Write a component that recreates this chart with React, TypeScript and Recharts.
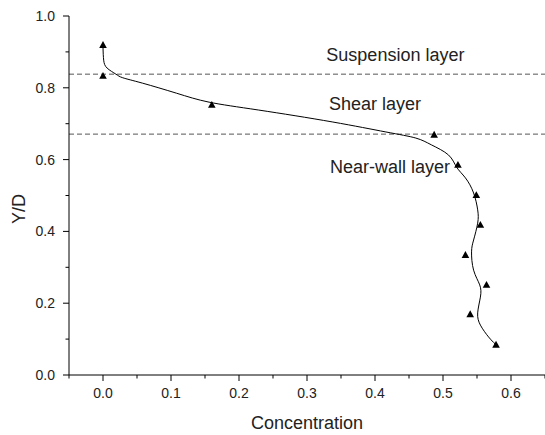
import React from 'react'
import {
  ScatterChart,
  Scatter,
  XAxis,
  YAxis,
  ReferenceLine,
  ReferenceDot,
} from 'recharts'

// measured points (triangles)
const concentration = [0.0, 0.0, 0.16, 0.487, 0.522, 0.549, 0.555, 0.533, 0.564, 0.54, 0.578]
const depth = [0.919, 0.833, 0.752, 0.669, 0.585, 0.501, 0.418, 0.334, 0.251, 0.169, 0.084]

// fitted curve
const curveX = [
  0.0, 0.001, 0.006, 0.019, 0.029, 0.058, 0.108, 0.156, 0.229, 0.337, 0.416, 0.46,
  0.483, 0.508, 0.52, 0.533, 0.545, 0.551, 0.551, 0.545, 0.542, 0.545, 0.554, 0.555, 0.551,
  0.555, 0.567, 0.577,
]
const curveY = [
  0.912, 0.877, 0.855, 0.838, 0.828, 0.813, 0.785, 0.76, 0.738, 0.705, 0.677, 0.66,
  0.641, 0.613, 0.579, 0.549, 0.507, 0.46, 0.423, 0.376, 0.343, 0.292, 0.251, 0.217, 0.173,
  0.139, 0.106, 0.086,
]

const layerBounds = [0.838, 0.671]

const layerLabels = ['Suspension layer', 'Shear layer', 'Near-wall layer']
const labelX = [0.43, 0.4, 0.422]
const labelY = [0.893, 0.757, 0.58]

const xTicks = [-0.05, 0, 0.05, 0.1, 0.15, 0.2, 0.25, 0.3, 0.35, 0.4, 0.45, 0.5, 0.55, 0.6, 0.65]
const yTicks = [0, 0.1, 0.2, 0.3, 0.4, 0.5, 0.6, 0.7, 0.8, 0.9, 1.0]

const points = concentration.map((c, i) => ({ x: c, y: depth[i] }))
const curve = curveX.map((c, i) => ({ x: c, y: curveY[i] }))

const font = '"Liberation Sans", Arial, sans-serif'

function XTick(props: any) {
  const { x, y, payload } = props
  const v = payload.value
  const major = Math.round(v * 100) % 10 === 0
  return (
    <g>
      <line x1={x} x2={x} y1={y} y2={y + (major ? 6 : 3.5)} stroke="#000" />
      {major && (
        <text x={x} y={y + 23} textAnchor="middle" fontSize={14} fill="#222" fontFamily={font}>
          {v.toFixed(1)}
        </text>
      )}
    </g>
  )
}

function YTick(props: any) {
  const { x, y, payload } = props
  const v = payload.value
  const major = Math.round(v * 10) % 2 === 0
  return (
    <g>
      <line x1={x - (major ? 6 : 3.5)} x2={x} y1={y} y2={y} stroke="#000" />
      {major && (
        <text x={x - 14} y={y + 5} textAnchor="end" fontSize={14} fill="#222" fontFamily={font}>
          {v.toFixed(1)}
        </text>
      )}
    </g>
  )
}

function Triangle(props: any) {
  const { cx, cy } = props
  return (
    <path
      d={`M${cx},${cy - 4}L${cx + 3.8},${cy + 2.8}L${cx - 3.8},${cy + 2.8}Z`}
      fill="#000"
    />
  )
}

export default function App() {
  return (
    <div style={{ position: 'absolute', left: 0, top: 0, background: '#fff' }}>
      <ScatterChart
        width={545}
        height={435}
        margin={{ top: 16, right: 0, bottom: 0, left: 0 }}
        style={{ fontFamily: font }}
      >
        <XAxis
          type="number"
          dataKey="x"
          domain={[-0.05, 0.65]}
          ticks={xTicks}
          interval={0}
          height={60}
          tickSize={0}
          tickMargin={0}
          tickLine={false}
          axisLine={{ stroke: '#000' }}
          tick={<XTick />}
          label={{
            value: 'Concentration',
            position: 'insideBottom',
            offset: 6,
            fontSize: 18,
            fill: '#222',
          }}
        />
        <YAxis
          type="number"
          dataKey="y"
          domain={[0, 1]}
          ticks={yTicks}
          interval={0}
          width={69}
          tickSize={0}
          tickMargin={0}
          tickLine={false}
          axisLine={{ stroke: '#000' }}
          tick={<YTick />}
          label={{
            content: () => (
              <text
                x={25}
                y={209}
                transform="rotate(-90, 25, 209)"
                textAnchor="middle"
                fontSize={18}
                fill="#222"
                fontFamily={font}
              >
                Y/D
              </text>
            ),
          }}
        />
        {layerBounds.map((b) => (
          <ReferenceLine key={b} y={b} stroke="#555" strokeDasharray="5 3" />
        ))}
        <Scatter
          data={curve}
          line={{ stroke: '#000', strokeWidth: 1 }}
          lineType="joint"
          lineJointType="natural"
          shape={() => null}
          isAnimationActive={false}
        />
        <Scatter data={points} shape={<Triangle />} isAnimationActive={false} />
        {layerLabels.map((t, i) => (
          <ReferenceDot
            key={t}
            x={labelX[i]}
            y={labelY[i]}
            r={0}
            fill="none"
            stroke="none"
            label={{ value: t, position: 'center', fontSize: 18, fill: '#222' }}
          />
        ))}
      </ScatterChart>
    </div>
  )
}
